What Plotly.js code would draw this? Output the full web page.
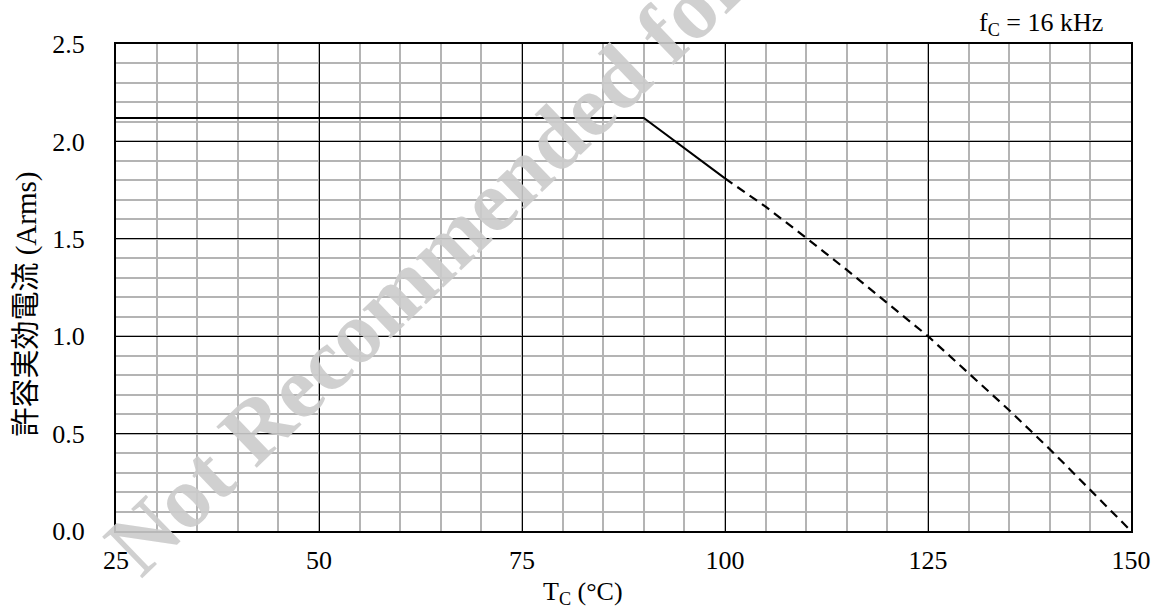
<!DOCTYPE html>
<html>
<head>
<meta charset="utf-8">
<script src="https://cdn.plot.ly/plotly-3.0.1.min.js"></script>
<style>html,body{margin:0;padding:0;background:#fff;}#chart{width:1153px;height:612px;}</style>
</head>
<body>
<div id="chart"></div>
<script>
// Rated region (solid)
const solidTc = [25, 90, 100];
const solidI = [2.12, 2.12, 1.81];
// Extended region (dashed)
const dashTc = [100, 105, 110, 115, 120, 125, 130, 135, 140, 145, 150];
const dashI = [1.81, 1.665, 1.505, 1.34, 1.17, 1.0, 0.81, 0.62, 0.42, 0.21, 0.0];
const xTicks = [25, 50, 75, 100, 125, 150];
const yTicks = [0, 0.5, 1.0, 1.5, 2.0, 2.5];
const yTickText = ["0.0", "0.5", "1.0", "1.5", "2.0", "2.5"];

const serif = "'Liberation Serif', 'Times New Roman', 'Noto Sans CJK JP', serif";

const traces = [
  {x: solidTc, y: solidI, mode: "lines", line: {color: "#000", width: 2}, hoverinfo: "skip", showlegend: false},
  {x: dashTc, y: dashI, mode: "lines", line: {color: "#000", width: 2.2, dash: "9px,6px"}, hoverinfo: "skip", showlegend: false}
];

const layout = {
  width: 1153, height: 612,
  margin: {l: 116, r: 22, t: 44, b: 81},
  paper_bgcolor: "#fff", plot_bgcolor: "#fff",
  font: {family: serif, size: 26, color: "#000"},
  xaxis: {
    range: [25, 150], tickvals: xTicks, ticks: "", ticklabelstandoff: 5,
    showgrid: true, gridcolor: "#000", gridwidth: 1,
    minor: {dtick: 5, showgrid: true, gridcolor: "#b4b4b4", gridwidth: 2},
    showline: true, linecolor: "#000", linewidth: 2, mirror: true, zeroline: false,
    tickfont: {family: serif, size: 26, color: "#000"}
  },
  yaxis: {
    range: [0, 2.5], tickvals: yTicks, ticktext: yTickText, ticks: "", ticklabelstandoff: 24,
    showgrid: true, gridcolor: "#000", gridwidth: 1,
    minor: {dtick: 0.1, showgrid: true, gridcolor: "#b4b4b4", gridwidth: 2},
    showline: true, linecolor: "#000", linewidth: 2, mirror: true, zeroline: false,
    tickfont: {family: serif, size: 26, color: "#000"}
  },
  annotations: [
    {text: "Not Recommended for", xref: "paper", yref: "paper", x: 0.305, y: 0.55,
     xanchor: "center", yanchor: "middle", textangle: -44, showarrow: false,
     font: {family: serif, size: 88, color: "#cccccc", weight: "bold"}, opacity: 0.9},
    {text: "f<sub>C</sub> = 16 kHz", xref: "paper", yref: "paper", x: 0.974, y: 1, yshift: 2,
     xanchor: "right", yanchor: "bottom", showarrow: false,
     font: {family: serif, size: 26, color: "#000"}},
    {text: "T<sub>C</sub> (°C)", xref: "paper", yref: "paper", x: 0.46, y: 0, yshift: -44,
     xanchor: "center", yanchor: "top", showarrow: false,
     font: {family: serif, size: 26, color: "#000"}},
    {text: "許容実効電流 (Arms)", xref: "paper", yref: "paper", x: 0, xshift: -89, y: 0.465,
     xanchor: "center", yanchor: "middle", textangle: -90, showarrow: false,
     font: {family: serif, size: 29, color: "#000"}}
  ]
};

Plotly.newPlot("chart", traces, layout, {displayModeBar: false, staticPlot: true});
</script>
</body>
</html>
